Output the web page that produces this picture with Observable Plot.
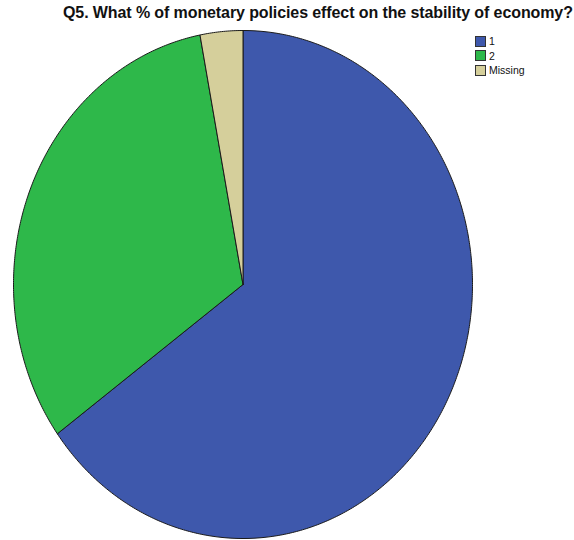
<!DOCTYPE html>
<html>
<head>
<meta charset="utf-8">
<script src="https://cdn.jsdelivr.net/npm/d3@7"></script>
<script src="https://cdn.jsdelivr.net/npm/@observablehq/plot@0.6"></script>
<style>
  body { margin: 0; background: #fff; font-family: "Liberation Sans", Arial, sans-serif; }
  #wrap { position: relative; width: 574px; height: 540px; overflow: hidden; }
  #title { height: 28px; box-sizing: border-box; padding-top: 4px; padding-left: 63px; font-size: 16px; font-weight: bold; white-space: nowrap; color: #111; letter-spacing: -0.1px; }
  #legend { position: absolute; left: 475px; top: 34px; font-size: 10.5px; color: #111; }
  .item { display: flex; align-items: center; height: 14.5px; }
  .sw { width: 9px; height: 9px; border: 1px solid #333; margin-right: 3px; }
</style>
</head>
<body>
<div id="wrap">
  <div id="title">Q5. What % of monetary policies effect on the stability of economy?</div>
  <div id="chart"></div>
  <div id="legend"></div>
</div>
<script>
const categories = ["1", "2", "Missing"];
const values = [65, 32, 3];
const colors = ["#3e58ac", "#2eb84a", "#d5cf9b"];

const arcs = d3.pie().sort(null).value(d => d)(values);
const pts = [];
arcs.forEach((a, i) => {
  const cat = categories[i];
  pts.push({cat, x: 0, y: 0});
  const n = Math.max(2, Math.ceil((a.endAngle - a.startAngle) / (Math.PI / 360)));
  for (let k = 0; k <= n; k++) {
    const t = a.startAngle + (a.endAngle - a.startAngle) * k / n;
    pts.push({cat, x: Math.sin(t), y: Math.cos(t)});
  }
  pts.push({cat, x: 0, y: 0});
});

const chart = Plot.plot({
  width: 574,
  height: 512,
  marginLeft: 13,
  marginRight: 102,
  marginTop: 2,
  marginBottom: 2,
  x: {domain: [-1, 1], axis: null},
  y: {domain: [-1, 1], axis: null},
  color: {domain: categories, range: colors},
  marks: [
    Plot.line(pts, {x: "x", y: "y", z: "cat", fill: "cat", stroke: "#1a1a1a", strokeWidth: 1, curve: "linear"})
  ]
});
document.getElementById("chart").appendChild(chart);

const legend = document.getElementById("legend");
categories.forEach((c, i) => {
  const item = document.createElement("div");
  item.className = "item";
  const sw = document.createElement("div");
  sw.className = "sw";
  sw.style.background = colors[i];
  const lab = document.createElement("span");
  lab.textContent = c;
  item.appendChild(sw);
  item.appendChild(lab);
  legend.appendChild(item);
});
</script>
</body>
</html>
